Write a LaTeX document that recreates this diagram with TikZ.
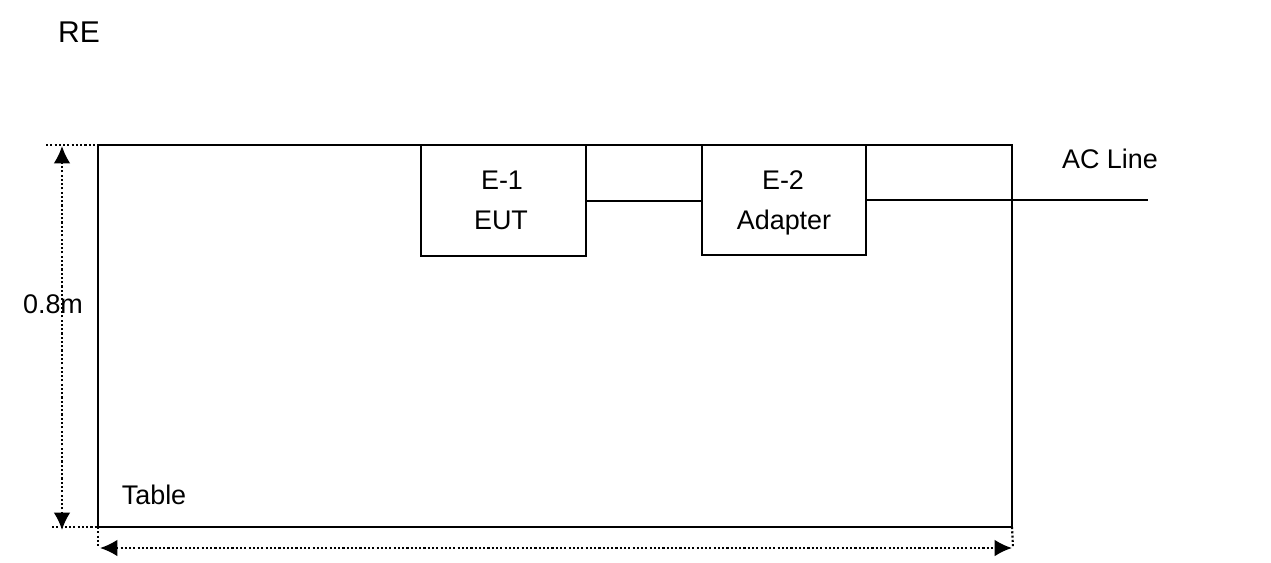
\documentclass[tikz,border=0pt]{standalone}
\usepackage{fontspec}
\setmainfont{Liberation Sans}
\usetikzlibrary{arrows.meta}
\begin{document}
\begin{tikzpicture}[x=0.75pt,y=-0.75pt,
  box/.style={draw,line width=1.4pt,rectangle,inner sep=0pt,outer sep=0pt,anchor=north west},
  lbl/.style={font=\fontsize{20.2}{23}\selectfont,inner sep=0pt,anchor=base},
  wire/.style={line width=0.9pt},
  dim/.style={line width=1.6pt,dash pattern=on 1.6pt off 1.6pt},
  dimarrow/.style={dim,{Latex[length=13pt,width=12.5pt]}-{Latex[length=13pt,width=12.5pt]}}
]
\useasboundingbox (0,0) rectangle (1271,562);
\fill[white] (0,0) rectangle (1271,562);
% table
\node[box,minimum width=914*0.75pt,minimum height=382*0.75pt] (table) at (98,145) {};
% equipment
\node[box,minimum width=165*0.75pt,minimum height=111*0.75pt] (eut) at (421,145) {};
\node[box,minimum width=164*0.75pt,minimum height=110*0.75pt] (adp) at (702,145) {};
\coordinate (acend) at (1148,200);
\draw[wire] (eut.east |- 0,201) -- (adp.west |- 0,201);
\draw[wire] (adp.east |- 0,200) -- (acend);
% labels
\node[font=\fontsize{22.5}{26}\selectfont,inner sep=0pt,anchor=base] (re) at (79,42.3) {RE};
\node[lbl] (e1) at (502,189) {E-1};
\node[lbl] (e1b) at (501,229.5) {EUT};
\node[lbl] (e2) at (783,189) {E-2};
\node[lbl] (e2b) at (784,229.5) {Adapter};
\node[lbl] (ac) at (1110,168.3) {AC Line};
\node[lbl] (tab) at (154,504) {Table};
\node[lbl] (h) at (53,313) {0.8m};
% dimension helpers
\coordinate (tl) at (46,145);
\coordinate (bl) at (52,527);
\coordinate (vt) at (62,146);
\coordinate (vb) at (62,530);
\coordinate (hl) at (100,548);
\coordinate (hr) at (1012,548);
\coordinate (lb) at (98,548);
\coordinate (rb) at (1013,548);
\draw[dim] (tl) -- (table.north west);
\draw[dim] (bl) -- (table.south west);
\draw[dim] (table.south west) -- (lb);
\draw[dim] (table.south east) -- (rb);
\draw[dimarrow] (vb) -- (vt);
\draw[dimarrow] (hl) -- (hr);
\end{tikzpicture}
\end{document}
